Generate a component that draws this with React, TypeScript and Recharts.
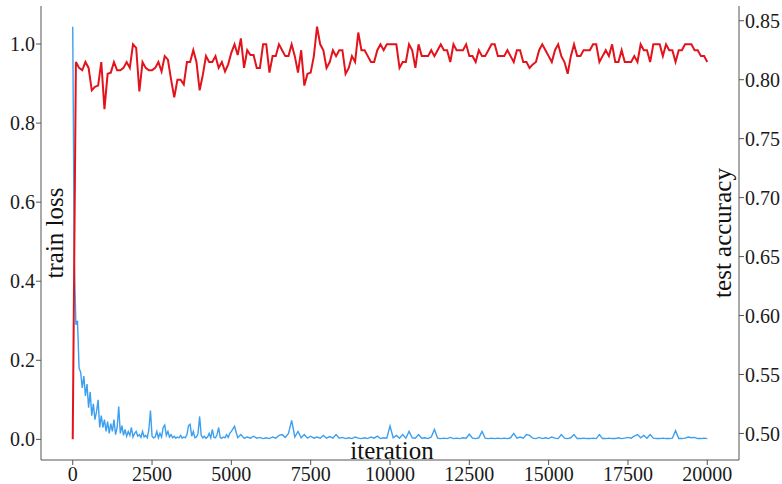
import { Label, Line, LineChart, XAxis, YAxis } from "recharts";

const LOSS_BLUE = "#3d9ff0";
const ACC_RED = "#e3131b";
const FRAME = "#555";
const SERIF = "Liberation Serif";

const iterationTicks = [0, 2500, 5000, 7500, 10000, 12500, 15000, 17500, 20000];
const lossTicks = [0, 0.2, 0.4, 0.6, 0.8, 1.0];
const accuracyTicks = [0.5, 0.55, 0.6, 0.65, 0.7, 0.75, 0.8, 0.85];

// train loss, every 50 iterations from 0 to 5000
const trainLossEarly = [
  1.044,
  0.45, 0.29, 0.3, 0.18, 0.17, 0.13, 0.16, 0.11, 0.14, 0.08,
  0.12, 0.06, 0.09, 0.05, 0.07, 0.1, 0.03, 0.06, 0.03, 0.05,
  0.02, 0.045, 0.015, 0.04, 0.02, 0.05, 0.012, 0.03, 0.083, 0.015,
  0.035, 0.01, 0.025, 0.008, 0.02, 0.01, 0.03, 0.006, 0.015, 0.02,
  0.008, 0.012, 0.005, 0.02, 0.006, 0.01, 0.004, 0.025, 0.073, 0.008,
  0.004, 0.006, 0.02, 0.004, 0.015, 0.006, 0.03, 0.036, 0.01, 0.02,
  0.006, 0.012, 0.004, 0.008, 0.003, 0.006, 0.004, 0.01, 0.003, 0.006,
  0.004, 0.012, 0.035, 0.038, 0.008, 0.02, 0.004, 0.006, 0.015, 0.058,
  0.01, 0.004, 0.008, 0.003, 0.006, 0.015, 0.004, 0.025, 0.005, 0.004,
  0.012, 0.03, 0.004, 0.003, 0.006, 0.004, 0.012, 0.005, 0.015, 0.02,
];

// train loss, every 100 iterations from 5100 to 20000
const trainLossLate = [
  0.033, 0.004, 0.012, 0.003, 0.006, 0.003, 0.008, 0.003, 0.005, 0.002,
  0.004, 0.002, 0.006, 0.003, 0.01, 0.012, 0.005, 0.015, 0.048, 0.006,
  0.02, 0.004, 0.012, 0.003, 0.008, 0.003, 0.006, 0.003, 0.01, 0.003,
  0.007, 0.003, 0.012, 0.003, 0.005, 0.002, 0.004, 0.002, 0.006, 0.003,
  0.002, 0.004, 0.002, 0.006, 0.003, 0.008, 0.002, 0.004, 0.003, 0.034,
  0.004, 0.01, 0.003, 0.012, 0.003, 0.02, 0.004, 0.003, 0.012, 0.003,
  0.004, 0.002, 0.006, 0.025, 0.003, 0.002, 0.003, 0.002, 0.005, 0.002,
  0.003, 0.002, 0.004, 0.003, 0.013, 0.003, 0.002, 0.004, 0.02, 0.003,
  0.002, 0.003, 0.002, 0.003, 0.002, 0.003, 0.002, 0.004, 0.015, 0.003,
  0.006, 0.003, 0.012, 0.01, 0.003, 0.002, 0.005, 0.002, 0.004, 0.002,
  0.006, 0.003, 0.002, 0.012, 0.003, 0.002, 0.004, 0.012, 0.002, 0.002,
  0.003, 0.002, 0.002, 0.003, 0.002, 0.012, 0.002, 0.002, 0.003, 0.002,
  0.002, 0.004, 0.002, 0.003, 0.005, 0.003, 0.008, 0.012, 0.004, 0.01,
  0.003, 0.012, 0.003, 0.002, 0.002, 0.003, 0.002, 0.002, 0.003, 0.022,
  0.002, 0.002, 0.003, 0.006, 0.004, 0.005, 0.002, 0.002, 0.003, 0.002,
];

// test accuracy, every 100 iterations from 0 to 20000
const testAccuracy = [
  0.495,
  0.815, 0.81, 0.808, 0.815, 0.81, 0.791, 0.794, 0.795, 0.815, 0.775,
  0.805, 0.806, 0.815, 0.808, 0.808, 0.81, 0.815, 0.81, 0.83, 0.827,
  0.79, 0.815, 0.81, 0.808, 0.808, 0.81, 0.815, 0.807, 0.82, 0.817,
  0.8, 0.785, 0.8, 0.8, 0.796, 0.815, 0.815, 0.825, 0.815, 0.791,
  0.804, 0.82, 0.815, 0.815, 0.82, 0.81, 0.815, 0.807, 0.813, 0.823,
  0.83, 0.821, 0.835, 0.81, 0.825, 0.821, 0.821, 0.81,
  0.81, 0.83, 0.83, 0.806, 0.82, 0.82, 0.83, 0.825, 0.82, 0.82,
  0.83, 0.82, 0.806, 0.825, 0.795, 0.805, 0.806, 0.82, 0.845, 0.83,
  0.825, 0.81, 0.815, 0.825, 0.82, 0.825, 0.825, 0.805, 0.81, 0.82,
  0.815, 0.84, 0.825, 0.825, 0.82, 0.815, 0.815, 0.825, 0.83, 0.825,
  0.83, 0.83, 0.83, 0.83, 0.81, 0.815, 0.815, 0.83, 0.825, 0.81,
  0.83, 0.82, 0.82, 0.82, 0.825, 0.82, 0.825, 0.83, 0.825, 0.825,
  0.815, 0.83, 0.825, 0.825, 0.825, 0.83, 0.82, 0.82, 0.815, 0.825,
  0.82, 0.82, 0.825, 0.83, 0.83, 0.82, 0.82, 0.82, 0.825, 0.82,
  0.815, 0.825,
  0.825, 0.815, 0.815, 0.81, 0.813, 0.815, 0.825, 0.83, 0.825, 0.82,
  0.815, 0.825, 0.83, 0.82, 0.815, 0.805, 0.82, 0.83, 0.82, 0.82,
  0.825, 0.825, 0.825, 0.83, 0.83, 0.815, 0.82, 0.825, 0.82, 0.83,
  0.815, 0.815, 0.825, 0.815, 0.815, 0.815, 0.82, 0.815, 0.83, 0.825,
  0.825, 0.815, 0.83, 0.83, 0.83, 0.82, 0.83, 0.825, 0.825, 0.815,
  0.825, 0.825, 0.83, 0.83, 0.83, 0.825, 0.825, 0.82, 0.82, 0.815,
];

const lossData = [
  ...trainLossEarly.map((loss, i) => ({ iter: i * 50, loss })),
  ...trainLossLate.map((loss, i) => ({ iter: 5100 + i * 100, loss })),
];
const accData = testAccuracy.map((acc, i) => ({ iter: i * 100, acc }));

const labelStyle = { fontFamily: SERIF, fontSize: 25, fill: "#111" };

function AxisTick(props: any) {
  const { x, y, textAnchor, verticalAnchor, payload, digits } = props;
  const dy = verticalAnchor === "start" ? "0.71em" : verticalAnchor === "middle" ? "0.355em" : 0;
  const value = digits == null ? String(payload.value) : Number(payload.value).toFixed(digits);
  return (
    <text
      x={x}
      y={y}
      dy={dy}
      textAnchor={textAnchor}
      style={{ fontFamily: SERIF, fontSize: 20, fill: "#1a1a1a" }}
    >
      {value}
    </text>
  );
}

function SideLabel({ viewBox, text, dx }: { viewBox?: any; text: string; dx: number }) {
  if (!viewBox) return null;
  const x = viewBox.x + dx;
  const y = viewBox.y + viewBox.height / 2;
  return (
    <text x={x} y={y} transform={`rotate(-90, ${x}, ${y})`} textAnchor="middle" style={labelStyle}>
      {text}
    </text>
  );
}

function BottomLabel({ viewBox }: { viewBox?: any }) {
  if (!viewBox) return null;
  return (
    <text x={viewBox.x + viewBox.width / 2 + 2} y={viewBox.y - 1} textAnchor="middle" style={labelStyle}>
      iteration
    </text>
  );
}

export default function App() {
  return (
    <div
      style={{
        position: "absolute",
        left: 0,
        top: 0,
        width: 782,
        height: 484,
        background: "#fff",
        fontFamily: SERIF,
      }}
    >
      <LineChart width={782} height={484} margin={{ top: 6, right: 0, bottom: 0, left: 0 }}>
        <XAxis
          dataKey="iter"
          type="number"
          domain={[-1000, 21000]}
          ticks={iterationTicks}
          allowDataOverflow
          height={24}
          stroke={FRAME}
          tick={<AxisTick />}
          tickSize={5}
          tickMargin={2}
        >
          <Label content={<BottomLabel />} />
        </XAxis>
        <XAxis
          xAxisId="top"
          orientation="top"
          type="number"
          domain={[-1000, 21000]}
          height={0}
          tick={false}
          tickLine={false}
          stroke={FRAME}
        />
        <YAxis
          yAxisId="left"
          type="number"
          domain={[-0.0522, 1.0962]}
          ticks={lossTicks}
          allowDataOverflow
          width={41}
          stroke={FRAME}
          tick={<AxisTick digits={1} />}
          tickSize={5}
          tickMargin={1}
        >
          <Label content={<SideLabel text="train loss" dx={63} />} />
        </YAxis>
        <YAxis
          yAxisId="right"
          orientation="right"
          type="number"
          domain={[0.4775, 0.8625]}
          ticks={accuracyTicks}
          allowDataOverflow
          width={43}
          stroke={FRAME}
          tick={<AxisTick digits={2} />}
          tickSize={5}
          tickMargin={1}
        >
          <Label content={<SideLabel text="test accuracy" dx={-8} />} />
        </YAxis>
        <Line
          data={lossData}
          dataKey="loss"
          yAxisId="left"
          type="linear"
          stroke={LOSS_BLUE}
          strokeWidth={1.4}
          dot={false}
          isAnimationActive={false}
        />
        <Line
          data={accData}
          dataKey="acc"
          yAxisId="right"
          type="linear"
          stroke={ACC_RED}
          strokeWidth={2}
          dot={false}
          isAnimationActive={false}
        />
      </LineChart>
    </div>
  );
}
